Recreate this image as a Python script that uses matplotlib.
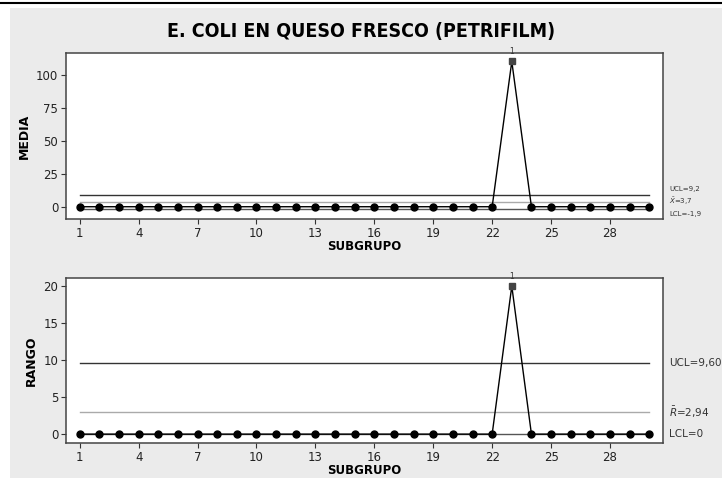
import matplotlib.pyplot as plt
from matplotlib.patches import Rectangle
from matplotlib.lines import Line2D

# datos
subgrupos = list(range(1, 31))
medias = [0] * 22 + [110] + [0] * 7
rangos = [0] * 22 + [20] + [0] * 7
ticks_x = [1, 4, 7, 10, 13, 16, 19, 22, 25, 28]

media_ucl, media_cl, media_lcl = 9.2, 3.7, -1.9
rango_ucl, rango_cl, rango_lcl = 9.60, 2.94, 0

fig = plt.figure(figsize=(7.22, 4.84), dpi=100)
fig.patch.set_facecolor('white')
fig.patches.append(Rectangle((0.014, 0.012), 0.986, 0.971, transform=fig.transFigure,
                             facecolor='#ebebeb', edgecolor='none', zorder=-10))
fig.lines.append(Line2D([0, 1], [0.9938, 0.9938], transform=fig.transFigure, color='black', lw=1.5))

fig.text(0.5, 0.935, 'E. COLI EN QUESO FRESCO (PETRIFILM)', ha='center', va='center',
         fontsize=14, fontweight='bold', fontstretch='condensed', family='DejaVu Sans')


def carta(ax, valores, ucl, cl, lcl, ylim, yticks, ylabel, etiquetas, pos_etq, fs_etq):
    ax.set_facecolor('white')
    ax.plot([1, 30], [ucl, ucl], color='#333333', lw=1)
    ax.plot([1, 30], [cl, cl], color='#aaaaaa', lw=1)
    ax.plot([1, 30], [lcl, lcl], color='#555555', lw=1)
    ax.plot(subgrupos, valores, color='black', lw=1, zorder=3)
    normales = [(x, v) for x, v in zip(subgrupos, valores) if v == 0]
    ax.plot([p[0] for p in normales], [p[1] for p in normales], 'o', color='black',
            markersize=5, zorder=4)
    fuera = [(x, v) for x, v in zip(subgrupos, valores) if v != 0]
    for x, v in fuera:
        ax.plot(x, v, 's', color='#444444', markersize=4.5, zorder=4)
        ax.text(x, v + (ylim[1] - ylim[0]) * 0.03, '1', ha='center', va='bottom',
                fontsize=5.5, color='#333333', clip_on=False)
    ax.set_xlim(0.3, 30.7)
    ax.set_ylim(*ylim)
    ax.set_xticks(ticks_x)
    ax.set_yticks(yticks)
    ax.tick_params(direction='out', length=3.5, width=0.8, labelsize=8.5, pad=2,
                   colors='#333333', labelcolor='#222222')
    for s in ax.spines.values():
        s.set_color('#444444')
        s.set_linewidth(1.1)
    ax.set_ylabel(ylabel, fontsize=9, fontweight='bold', labelpad=4)
    ax.set_xlabel('SUBGRUPO', fontsize=8.5, fontweight='bold', labelpad=0)
    for texto, y in zip(etiquetas, pos_etq):
        ax.text(1.01, y, texto, transform=ax.get_yaxis_transform(), ha='left',
                va='center', fontsize=fs_etq, color='#333333', clip_on=False)


ax1 = fig.add_axes([0.0914, 0.5475, 0.8269, 0.343])
carta(ax1, medias, media_ucl, media_cl, media_lcl, (-9.3, 116.4), [0, 25, 50, 75, 100],
      'MEDIA', ['UCL=9,2', r'$\bar{X}$=3,7', 'LCL=-1,9'], [13.5, 4.0, -5.5], 5)

ax2 = fig.add_axes([0.0914, 0.0847, 0.8269, 0.341])
carta(ax2, rangos, rango_ucl, rango_cl, rango_lcl, (-1.2, 21.1), [0, 5, 10, 15, 20],
      'RANGO', ['UCL=9,60', r'$\bar{R}$=2,94', 'LCL=0'], [9.6, 2.94, 0], 7.5)

fig.savefig('out.png', dpi=100)
